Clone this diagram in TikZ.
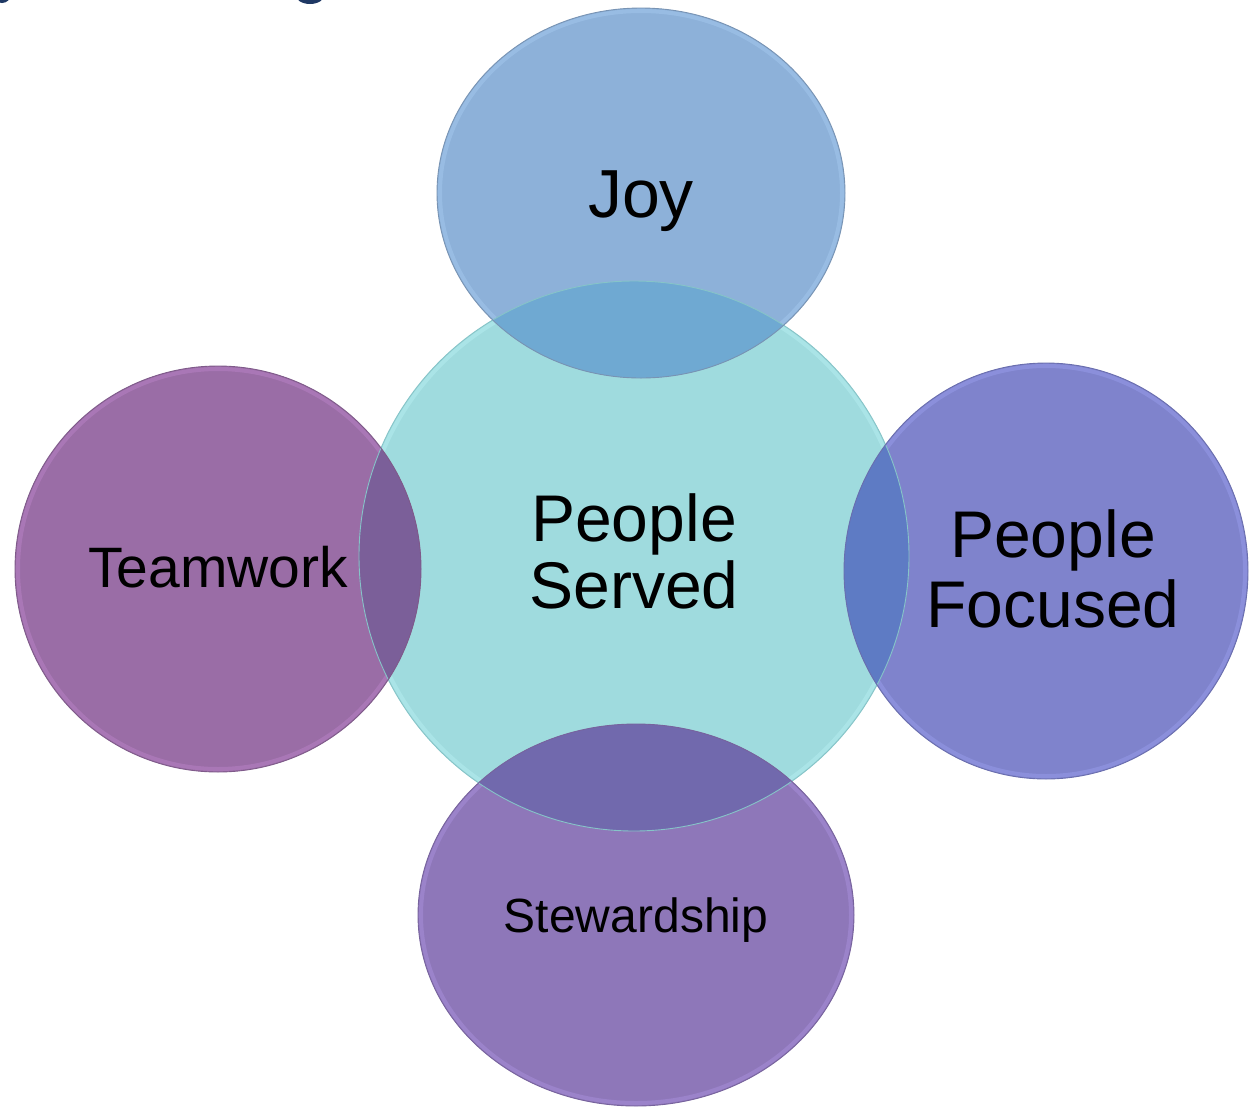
\documentclass[tikz,border=0pt]{standalone}
\usepackage{fontspec}
\setmainfont{Liberation Sans}
\definecolor{cenF}{HTML}{9FDBDE}
\definecolor{cenR}{HTML}{B6EEF0}
\definecolor{cenO}{HTML}{86C4C8}
\definecolor{joyF}{HTML}{8DB1D9}
\definecolor{joyR}{HTML}{A3C8EE}
\definecolor{joyO}{HTML}{7893B3}
\definecolor{joyX}{HTML}{6FA9D2}
\definecolor{pfF}{HTML}{7F83CC}
\definecolor{pfR}{HTML}{979CEA}
\definecolor{pfO}{HTML}{6A6EAE}
\definecolor{pfX}{HTML}{5E7BC4}
\definecolor{tmF}{HTML}{9A6DA6}
\definecolor{tmR}{HTML}{B982C6}
\definecolor{tmO}{HTML}{7F5A8A}
\definecolor{tmX}{HTML}{7B5F99}
\definecolor{stF}{HTML}{8E77B9}
\definecolor{stR}{HTML}{A88FDC}
\definecolor{stO}{HTML}{77639D}
\definecolor{stX}{HTML}{7169AD}
\definecolor{titleC}{HTML}{1F3864}
\begin{document}
\begin{tikzpicture}[x=1pt,y=-1pt,
  lbl/.style={anchor=base, align=center, text=black, inner sep=0pt},
  rim/.style={line width=4pt, opacity=0.5},
  edge/.style={line width=0.9pt}]
\useasboundingbox (0,0) rectangle (1249,1109);
\begin{scope}
\clip (0,0) rectangle (1249,1109);
% cut-off title fragments
\fill[titleC] (2,-6) ellipse (9 and 9);
\fill[titleC] (310,-6) ellipse (15 and 10);
% base fills
\fill[cenF] (634,556) circle (275);
\fill[joyF] (641,193) ellipse (204 and 185);
\fill[pfF] (1046,571) ellipse (202 and 208);
\fill[tmF] (218,569) ellipse (203 and 203);
\fill[stF] (636,915) ellipse (218 and 191);
% rims
\draw[rim, cenR] (634,556) circle (272);
\draw[rim, joyR] (641,193) ellipse (201 and 182);
\draw[rim, pfR] (1046,571) ellipse (199 and 205);
\draw[rim, tmR] (218,569) ellipse (200 and 200);
\draw[rim, stR] (636,915) ellipse (215 and 188);
% overlaps
\begin{scope}\clip (634,556) circle (275);
\fill[joyX] (641,193) ellipse (204 and 185);
\fill[pfX] (1046,571) ellipse (202 and 208);
\fill[tmX] (218,569) ellipse (203 and 203);
\fill[stX] (636,915) ellipse (218 and 191);
\end{scope}
% outlines
\draw[edge, cenO] (634,556) circle (275);
\draw[edge, joyO] (641,193) ellipse (204 and 185);
\draw[edge, pfO] (1046,571) ellipse (202 and 208);
\draw[edge, tmO] (218,569) ellipse (203 and 203);
\draw[edge, stO] (636,915) ellipse (218 and 191);
\end{scope}
% labels
\node[lbl, font=\fontsize{68}{70}\selectfont] (joy) at (641,217) {Joy};
\node[lbl, font=\fontsize{66}{67}\selectfont] (served) at (634,608) {People\\Served};
\node[lbl, font=\fontsize{66}{70}\selectfont] (focused) at (1053,627) {People\\Focused};
\node[lbl, font=\fontsize{57}{60}\selectfont] (team) at (218,587) {Teamwork};
\node[lbl, font=\fontsize{48}{52}\selectfont] (stew) at (636,932) {Stewardship};
\end{tikzpicture}
\end{document}
